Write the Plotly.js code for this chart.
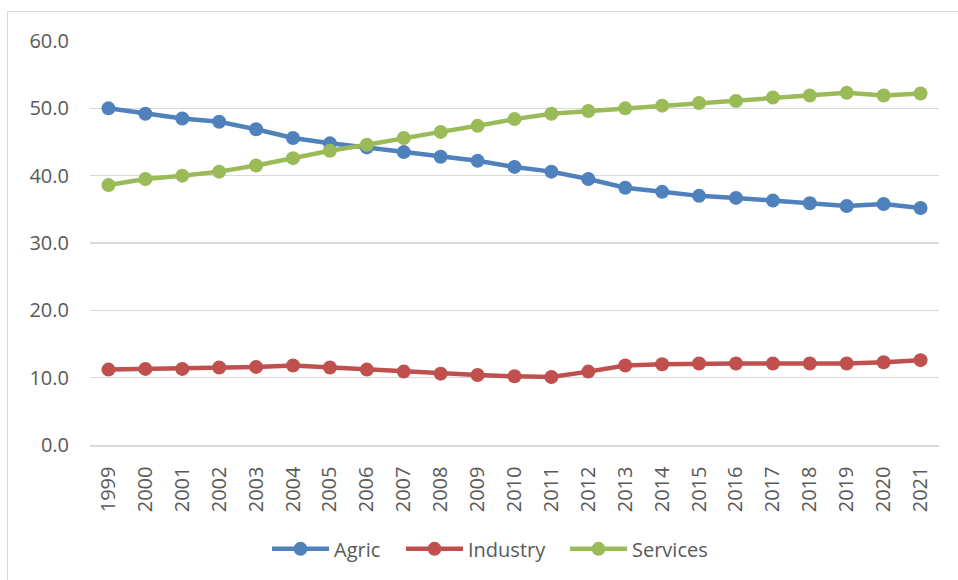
<!DOCTYPE html>
<html>
<head>
<meta charset="utf-8">
<script src="https://cdn.plot.ly/plotly-3.0.1.min.js"></script>
<style>
html, body { margin: 0; padding: 0; background: #fff; }
#wrap { position: relative; width: 958px; height: 580px; overflow: hidden; }
#chart { width: 958px; height: 580px; }
#frame { position: absolute; left: 7px; top: 11px; width: 1000px; height: 1000px;
  border-left: 1.5px solid #d9d9d9; border-top: 1.5px solid #d9d9d9; pointer-events: none; }
</style>
</head>
<body>
<div id="wrap"><div id="chart"></div><div id="frame"></div></div>
<script>
const years = ["1999","2000","2001","2002","2003","2004","2005","2006","2007","2008","2009","2010",
  "2011","2012","2013","2014","2015","2016","2017","2018","2019","2020","2021"];
const agric = [50.0,49.2,48.5,48.0,46.9,45.6,44.8,44.2,43.5,42.8,42.2,41.3,
  40.6,39.5,38.2,37.6,37.0,36.7,36.3,35.9,35.5,35.8,35.2];
const industry = [11.2,11.3,11.3,11.5,11.6,11.8,11.5,11.2,10.9,10.6,10.4,10.2,
  10.1,10.9,11.8,12.0,12.1,12.1,12.1,12.1,12.1,12.3,12.6];
const services = [38.6,39.5,40.0,40.6,41.5,42.6,43.7,44.6,45.6,46.5,47.4,48.4,
  49.2,49.6,50.0,50.4,50.8,51.1,51.6,51.9,52.3,51.9,52.2];
const yTicks = [0,10,20,30,40,50,60];
const yTickText = ["0.0","10.0","20.0","30.0","40.0","50.0","60.0"];

function series(name, y, color, legendId) {
  return {
    type: 'scatter', mode: 'lines+markers', name: name, x: years, y: y,
    line: { color: color, width: 4.5 },
    marker: { color: color, size: 14 },
    cliponaxis: false, legend: legendId
  };
}

const data = [
  series('Agric', agric, '#4F81BD', 'legend'),
  series('Industry', industry, '#C0504D', 'legend2'),
  series('Services', services, '#9BBB59', 'legend3')
];

const font = { family: '"Open Sans", "Noto Sans", sans-serif', size: 20, color: '#595959' };

// plot area: x 90..939 px (849 px wide), y 41..445 px
function legendAt(px) {
  return {
    orientation: 'h', x: (px - 90) / 849, xanchor: 'left', y: -0.257, yanchor: 'middle',
    font: font, itemwidth: 57, bgcolor: 'rgba(0,0,0,0)'
  };
}

const layout = {
  width: 958, height: 580,
  margin: { l: 90, r: 19, t: 41, b: 135 },
  paper_bgcolor: '#ffffff', plot_bgcolor: '#ffffff',
  font: font,
  showlegend: true,
  legend: legendAt(267),
  legend2: legendAt(401),
  legend3: legendAt(565),
  xaxis: {
    type: 'category', tickangle: -90, showgrid: false,
    showline: true, linecolor: '#d9d9d9', linewidth: 1.5,
    ticks: '', ticklabelstandoff: 12, tickfont: font,
    range: [-0.5, 22.5], fixedrange: true
  },
  yaxis: {
    range: [0, 60], tickvals: yTicks, ticktext: yTickText,
    showgrid: true, gridcolor: '#d9d9d9', gridwidth: 1.5,
    zeroline: false, showline: false, ticks: '',
    ticklabelstandoff: 20, tickfont: font, fixedrange: true
  }
};

Plotly.newPlot('chart', data, layout, { displayModeBar: false, staticPlot: true });
</script>
</body>
</html>
